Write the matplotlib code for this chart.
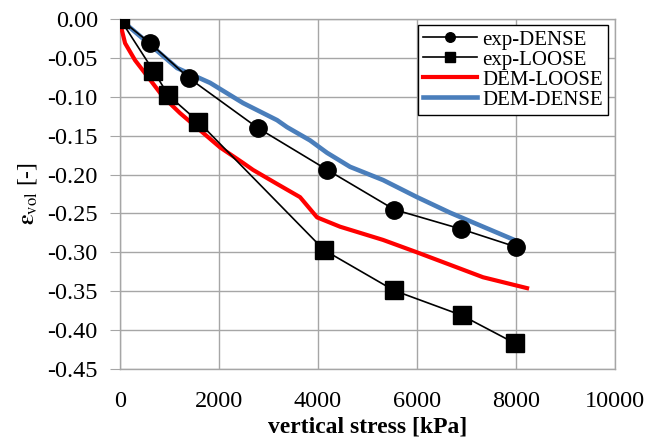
import matplotlib
matplotlib.use('Agg')
import matplotlib.pyplot as plt
from matplotlib.ticker import MultipleLocator

plt.rcParams['font.family'] = ['Liberation Serif', 'DejaVu Serif']
plt.rcParams['mathtext.fontset'] = 'stix'

# experimental data
dense_x = [0, 606, 1394, 2782, 4188, 5541, 6889, 8000]
dense_y = [0.0, -0.031, -0.076, -0.140, -0.194, -0.245, -0.270, -0.293]
loose_x = [0, 673, 976, 1582, 4121, 5535, 6903, 7980]
loose_y = [0.0, -0.0665, -0.098, -0.132, -0.297, -0.349, -0.381, -0.417]

# DEM results
dem_loose_x = [0, 20, 101, 303, 606, 869, 1212, 1616, 2020, 2485, 2687, 3172,
               3636, 3980, 4444, 5313, 6000, 6667, 7333, 8222]
dem_loose_y = [0.0, -0.010, -0.031, -0.053, -0.078, -0.100, -0.121, -0.143,
               -0.165, -0.185, -0.194, -0.212, -0.229, -0.255, -0.267, -0.284,
               -0.300, -0.316, -0.332, -0.346]
dem_dense_x = [0, 606, 1152, 1818, 2485, 3172, 3374, 3838, 4182, 4646, 5313,
               6000, 6667, 7333, 8000]
dem_dense_y = [0.0, -0.033, -0.063, -0.082, -0.108, -0.130, -0.139, -0.156,
               -0.172, -0.190, -0.207, -0.229, -0.249, -0.267, -0.285]

fig = plt.figure(figsize=(6.49, 4.43), dpi=100)
ax = fig.add_axes([0.185, 0.167, 0.7627, 0.790])

ax.plot(dense_x, dense_y, color='black', lw=1.2, marker='o', ms=12.5, label='exp-DENSE', zorder=4)
ax.plot(loose_x, loose_y, color='black', lw=1.2, marker='s', ms=12.5, label='exp-LOOSE', zorder=4)
ax.plot(dem_loose_x, dem_loose_y, color='#ff0000', lw=3, label='DEM-LOOSE', zorder=3)
ax.plot(dem_dense_x, dem_dense_y, color='#4a7ebb', lw=3.3, label='DEM-DENSE', zorder=3)

ax.set_xlim(0, 10000)
ax.set_ylim(-0.45, 0)
ax.xaxis.set_major_locator(MultipleLocator(2000))
yt = [-0.45, -0.40, -0.35, -0.30, -0.25, -0.20, -0.15, -0.10, -0.05, 0.0]
ax.set_yticks(yt)
ax.set_yticklabels(['0.00' if abs(v) < 1e-9 else '%.2f' % v for v in yt])
ax.set_ylim(-0.45, 0)

ax.grid(True, color='#a6a6a6', lw=1)
ax.set_axisbelow(True)
for s in ax.spines.values():
    s.set_color('#a6a6a6')
    s.set_linewidth(1)
ax.tick_params(axis='y', length=7, color='#a6a6a6', labelsize=17.5, pad=9)
ax.tick_params(axis='x', length=0, labelsize=17.5, pad=16)

ax.set_xlabel('vertical stress [kPa]', fontsize=17, fontweight='bold', labelpad=3)
ax.set_ylabel(r'$\boldsymbol{\varepsilon}_{\rm vol}$ [-]', fontsize=17, labelpad=6)

leg = ax.legend(loc='upper right', bbox_to_anchor=(0.986, 0.983), fontsize=15,
                fancybox=False, edgecolor='black', framealpha=1, handlelength=2.6,
                markerscale=0.55, borderpad=0.25, labelspacing=0.02, handletextpad=0.25,
                borderaxespad=0)
leg.get_frame().set_linewidth(1)

fig.savefig('out.png', dpi=100)
